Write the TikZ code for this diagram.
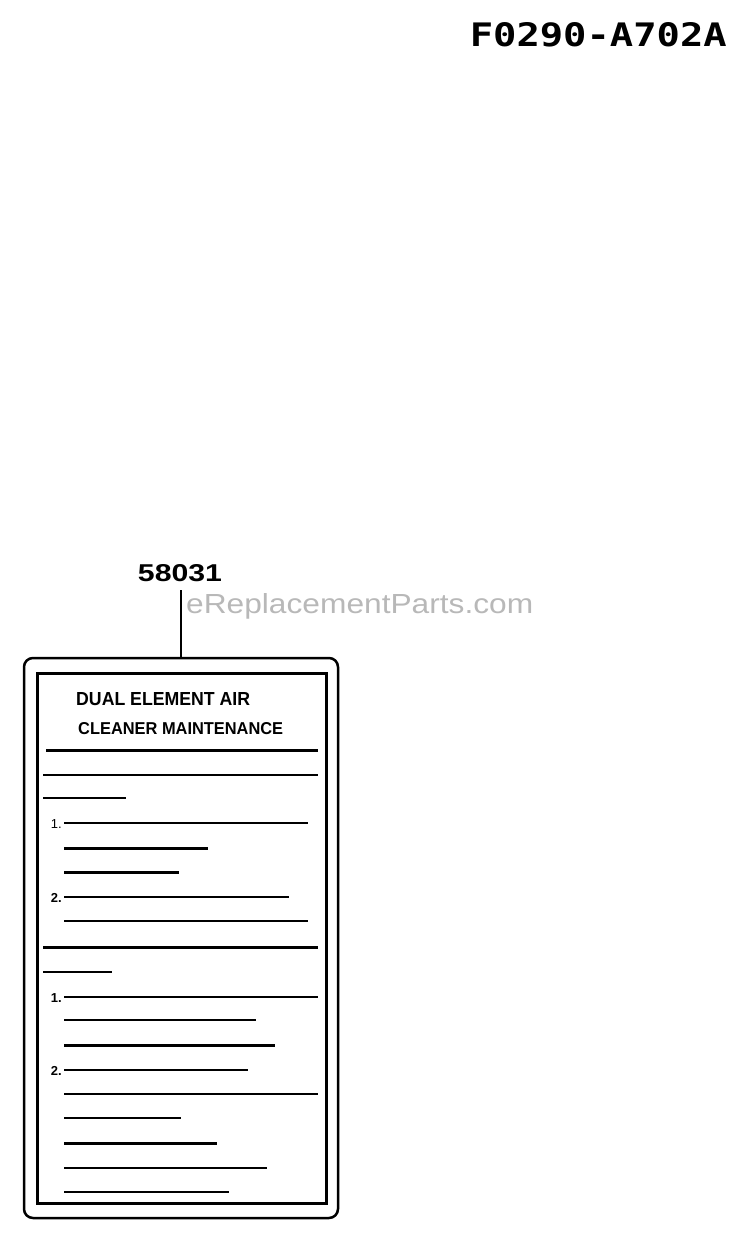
\documentclass[tikz,border=0pt]{standalone}
\usepackage{fontspec}
\setmainfont{Liberation Sans}
\newfontfamily\monob{DejaVu Sans Mono}
\begin{document}
\begin{tikzpicture}[x=1pt,y=-1pt,
  thinl/.style={line width=1.6pt},
  medl/.style={line width=2.1pt},
  thickl/.style={line width=3pt},
  numlbl/.style={anchor=east, inner sep=0pt, font=\fontsize{13}{14}\selectfont\bfseries},
  txt/.style={inner sep=0pt, anchor=south west},
]
\useasboundingbox (0,0) rectangle (750,1241);
% drawing code
\node[txt, anchor=south east] (code) at (727,47) {\resizebox{257pt}{24pt}{\monob\bfseries F0290-A702A}};
\node[txt, anchor=south] (pn) at (180,582) {\resizebox{84pt}{17pt}{\bfseries 58031}};
\node[txt, text=black!28] (wm) at (186,619) {\resizebox{347pt}{20pt}{eReplacementParts.com}};
% decal
\node[draw, line width=2.5pt, rounded corners=9pt, minimum width=314pt, minimum height=560pt, inner sep=0pt] (decal) at (181,938) {};
\node[draw, line width=3pt, minimum width=289pt, minimum height=530pt, inner sep=0pt] (panel) at (181.5,938) {};
\draw[line width=2.5pt] ([yshift=-8pt]pn.south -| decal.north) -- (decal.north);
% heading
\node[txt] (t1) at (76,706) {\resizebox{174pt}{13pt}{\bfseries DUAL ELEMENT AIR}};
\node[txt] (t2) at (78,735) {\resizebox{205pt}{12pt}{\bfseries CLEANER MAINTENANCE}};
% rules
\draw[thickl] (46,750) -- (318,750);
\draw[thinl] (43,775) -- (318,775);
\draw[thinl] (43,798) -- (126,798);
\node[numlbl, font=\fontsize{13}{14}\selectfont] (n1) at (62,824) {1.};
\draw[thinl] (64,823) -- (308,823);
\draw[thickl] (64,848) -- (208,848);
\draw[thickl] (64,872) -- (179,872);
\node[numlbl] (n2) at (62,898) {2.};
\draw[thinl] (64,897) -- (289,897);
\draw[thinl] (64,921) -- (308,921);
\draw[thickl] (43,947) -- (318,947);
\draw[thinl] (43,972) -- (112,972);
\node[numlbl] (n3) at (62,998) {1.};
\draw[medl] (64,997) -- (318,997);
\draw[thinl] (64,1020) -- (256,1020);
\draw[thickl] (64,1045) -- (275,1045);
\node[numlbl] (n4) at (62,1071) {2.};
\draw[medl] (64,1070) -- (248,1070);
\draw[medl] (64,1094) -- (318,1094);
\draw[medl] (64,1118) -- (181,1118);
\draw[thickl] (64,1143) -- (217,1143);
\draw[thinl] (64,1168) -- (267,1168);
\draw[medl] (64,1192) -- (229,1192);
\end{tikzpicture}
\end{document}
